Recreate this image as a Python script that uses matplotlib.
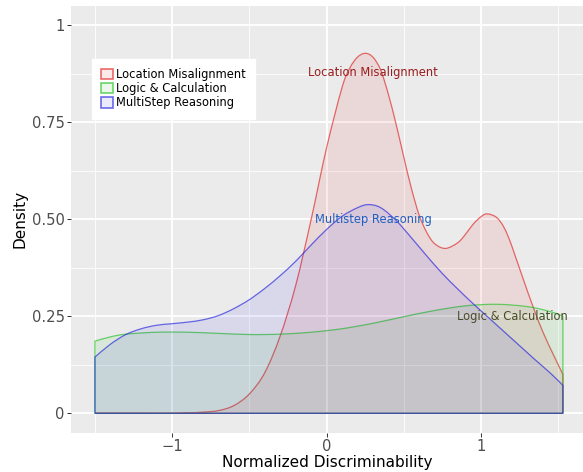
"""Density curves of normalized discriminability per error type"""
import numpy as np
import matplotlib
matplotlib.use('Agg')
import matplotlib.pyplot as plt
from matplotlib.patches import Patch, PathPatch
from matplotlib.path import Path
from matplotlib.ticker import MultipleLocator

# Values
loc_x = [-1.5, -1.2, -1.0, -0.9, -0.8, -0.7, -0.6, -0.5, -0.4, -0.3, -0.2, -0.1,
         0.0, 0.1, 0.15, 0.2, 0.25, 0.3, 0.35, 0.4, 0.45, 0.5, 0.55, 0.6, 0.65, 0.7,
         0.77, 0.85, 0.9, 0.95, 1.0, 1.04, 1.1, 1.15, 1.2, 1.3, 1.4, 1.53]
loc_y = [0.0, 0.0, 0.0, 0.001, 0.003, 0.007, 0.02, 0.05, 0.105, 0.2, 0.33, 0.5,
         0.685, 0.84, 0.89, 0.918, 0.928, 0.918, 0.885, 0.822, 0.745, 0.66, 0.578,
         0.51, 0.465, 0.437, 0.425, 0.44, 0.462, 0.488, 0.507, 0.514, 0.505, 0.478,
         0.43, 0.315, 0.21, 0.10]

logic_x = [-1.5, -1.4, -1.3, -1.1, -0.9, -0.7, -0.5, -0.3, -0.1, 0.1, 0.3, 0.5,
           0.7, 0.9, 1.1, 1.3, 1.45, 1.53]
logic_y = [0.186, 0.197, 0.204, 0.209, 0.209, 0.206, 0.203, 0.204, 0.209, 0.218,
           0.232, 0.249, 0.265, 0.277, 0.281, 0.275, 0.262, 0.25]

multi_x = [-1.5, -1.4, -1.3, -1.2, -1.1, -1.0, -0.9, -0.8, -0.7, -0.6, -0.5, -0.4,
           -0.3, -0.2, -0.1, 0.0, 0.1, 0.2, 0.27, 0.35, 0.45, 0.55, 0.65, 0.75,
           0.85, 0.95, 1.05, 1.15, 1.25, 1.35, 1.45, 1.53]
multi_y = [0.145, 0.178, 0.203, 0.218, 0.227, 0.231, 0.235, 0.241, 0.252, 0.27,
           0.293, 0.322, 0.355, 0.392, 0.434, 0.474, 0.508, 0.53, 0.538, 0.53, 0.497,
           0.452, 0.405, 0.36, 0.32, 0.282, 0.246, 0.21, 0.174, 0.138, 0.103, 0.072]

labels = ['Location Misalignment', 'Logic & Calculation', 'MultiStep Reasoning']
colors = ['#e02020', '#20c020', '#2020e0']


def density_path(xs, ys):
    # closed outline: baseline -> smooth (bezier) curve through the points -> baseline
    p = np.column_stack([xs, ys])
    verts = [(xs[0], 0.0), tuple(p[0])]
    codes = [Path.MOVETO, Path.LINETO]
    n = len(p)
    for i in range(n - 1):
        p0 = p[max(i - 1, 0)]
        p3 = p[min(i + 2, n - 1)]
        c1 = p[i] + (p[i + 1] - p0) / 6
        c2 = p[i + 1] - (p3 - p[i]) / 6
        verts += [tuple(c1), tuple(c2), tuple(p[i + 1])]
        codes += [Path.CURVE4] * 3
    verts += [(xs[-1], 0.0), (xs[0], 0.0)]
    codes += [Path.LINETO, Path.CLOSEPOLY]
    return Path(verts, codes)


fig = plt.figure(figsize=(5.83, 4.72), dpi=100)
ax = fig.add_axes([0.1218, 0.0833, 0.8782, 0.904])
ax.set_facecolor('#ebebeb')
for s in ax.spines.values():
    s.set_visible(False)

ax.set_xlim(-1.655, 1.66)
ax.set_ylim(-0.05, 1.05)
ax.xaxis.set_major_locator(MultipleLocator(1))
ax.xaxis.set_minor_locator(MultipleLocator(0.5))
ax.yaxis.set_major_locator(MultipleLocator(0.25))
ax.yaxis.set_minor_locator(MultipleLocator(0.125))
ax.grid(which='major', color='white', linewidth=1.3)
ax.grid(which='minor', color='white', linewidth=0.6)
ax.set_axisbelow(True)
ax.set_yticks([0, 0.25, 0.5, 0.75, 1])
ax.set_yticklabels(['0', '0.25', '0.50', '0.75', '1'])
ax.tick_params(which='major', length=3, width=0.7, color='#333333',
               labelcolor='#4d4d4d', labelsize=10.6, pad=1.5)
ax.tick_params(which='minor', length=0)

series = [(loc_x, loc_y), (logic_x, logic_y), (multi_x, multi_y)]
for (xs, ys), c in zip(series, colors):
    rgb = matplotlib.colors.to_rgb(c)
    ax.add_patch(PathPatch(density_path(xs, ys), facecolor=rgb + (0.09,),
                           edgecolor=rgb + (0.65,), linewidth=0.9, zorder=3))

# in-plot labels
ax.text(0.30, 0.879, 'Location Misalignment', color='#9a1c1c', fontsize=8.3,
        ha='center', va='center', zorder=5)
ax.text(0.30, 0.50, 'Multistep Reasoning', color='#1f5fbf', fontsize=8.3,
        ha='center', va='center', zorder=5)
ax.text(1.20, 0.25, 'Logic & Calculation', color='#4a4a2a', fontsize=8.3,
        ha='center', va='center', zorder=5)

handles = [Patch(facecolor=matplotlib.colors.to_rgb(c) + (0.09,),
                 edgecolor=matplotlib.colors.to_rgb(c) + (0.65,), linewidth=1.2)
           for c in colors]
leg = ax.legend(handles, labels, loc='upper left', bbox_to_anchor=(0.041, 0.876),
                fontsize=8.3, frameon=True, fancybox=False, framealpha=1,
                edgecolor='white', handlelength=1.0, handleheight=1.0,
                handletextpad=0.3, labelspacing=0.1, borderpad=0.8,
                borderaxespad=0)
leg.set_zorder(6)

ax.set_xlabel('Normalized Discriminability', fontsize=11, labelpad=1)
ax.set_ylabel('Density', fontsize=11, labelpad=3)

fig.savefig('out.png', dpi=100)
